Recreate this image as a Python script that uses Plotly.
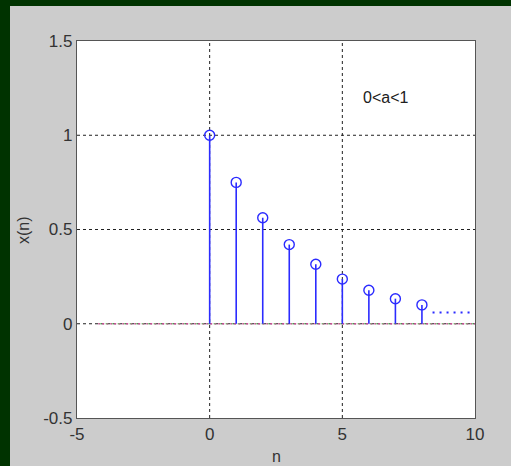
import plotly.graph_objects as go

n = [0, 1, 2, 3, 4, 5, 6, 7, 8]
x_vals = [1.0, 0.75, 0.5625, 0.42, 0.316, 0.237, 0.178, 0.133, 0.1]
tail_x = [8.4, 9.9]
tail_y = [0.06, 0.06]
x_ticks = [-5, 0, 5, 10]
y_ticks = [-0.5, 0, 0.5, 1, 1.5]
note = "0<a<1"

W, H = 511, 466
L, R, T, B = 77, 475, 41, 418

blue = "#2b2bff"
fig = go.Figure()

# grid lines (MATLAB-like dotted)
for gx in [0, 5]:
    fig.add_shape(type="line", x0=gx, x1=gx, y0=-0.5, y1=1.5, xref="x", yref="y",
                  line=dict(color="#202020", width=1, dash="3px,3px"), layer="below")
for gy in [0, 0.5, 1]:
    fig.add_shape(type="line", x0=-5, x1=10, y0=gy, y1=gy, xref="x", yref="y",
                  line=dict(color="#202020", width=1, dash="3px,3px"), layer="below")

# baseline
fig.add_trace(go.Scatter(x=[-4.2, 10], y=[0, 0], mode="lines",
                         line=dict(color="#d0509a", width=1.5, dash="2px,2px"),
                         hoverinfo="skip", showlegend=False))
fig.add_trace(go.Scatter(x=[-4.15, 10], y=[0, 0], mode="lines",
                         line=dict(color="#60c060", width=1.2, dash="2px,4px"),
                         hoverinfo="skip", showlegend=False))

# stems
sx, sy = [], []
for a, b in zip(n, x_vals):
    sx += [a, a, None]
    sy += [0, b, None]
fig.add_trace(go.Scatter(x=sx, y=sy, mode="lines", line=dict(color=blue, width=1.6),
                         hoverinfo="skip", showlegend=False))
fig.add_trace(go.Scatter(x=n, y=x_vals, mode="markers",
                         marker=dict(symbol="circle-open", size=10, color=blue,
                                     line=dict(width=1.4, color=blue)),
                         showlegend=False))
fig.add_trace(go.Scatter(x=tail_x, y=tail_y, mode="lines",
                         line=dict(color=blue, width=2, dash="2px,5px"),
                         hoverinfo="skip", showlegend=False))

fig.add_annotation(x=5.72, y=1.2, text=note, showarrow=False, xanchor="left",
                   font=dict(size=16, color="#202020", family="Liberation Sans, Arial"))

def px(xp):
    return (xp - L) / (R - L)

def py(yp):
    return (B - yp) / (B - T)

# dark green border
fig.add_shape(type="rect", xref="paper", yref="paper", x0=px(-2), x1=px(10),
              y0=py(H + 2), y1=py(-2), fillcolor="#003300", line=dict(width=0), layer="above")
fig.add_shape(type="rect", xref="paper", yref="paper", x0=px(-2), x1=px(W + 2),
              y0=py(6), y1=py(-2), fillcolor="#003300", line=dict(width=0), layer="above")

axis_common = dict(showgrid=False, zeroline=False, showline=True, mirror=True,
                   linecolor="#555555", linewidth=1.2, ticks="", automargin=False,
                   tickfont=dict(size=17, color="#333333", family="Liberation Sans, Arial"))

fig.update_xaxes(range=[-5, 10], tickvals=x_ticks, ticktext=[str(v) for v in x_ticks],
                 **axis_common)
fig.update_yaxes(range=[-0.5, 1.5], tickvals=y_ticks, ticktext=["-0.5", "0", "0.5", "1", "1.5"],
                 **axis_common)

# axis titles as annotations for exact placement
fig.add_annotation(xref="paper", yref="paper", x=px(276), y=py(456), text="n", showarrow=False,
                   xanchor="center", yanchor="middle",
                   font=dict(size=16, color="#333333", family="Liberation Sans, Arial"))
fig.add_annotation(xref="paper", yref="paper", x=px(23), y=py(230), text="x(n)", showarrow=False,
                   textangle=-90, xanchor="center", yanchor="middle",
                   font=dict(size=16, color="#333333", family="Liberation Sans, Arial"))

fig.update_layout(width=W, height=H, margin=dict(l=L, r=W - R, t=T, b=H - B),
                  paper_bgcolor="#cccccc", plot_bgcolor="white", showlegend=False)

fig.write_html("out.html")
